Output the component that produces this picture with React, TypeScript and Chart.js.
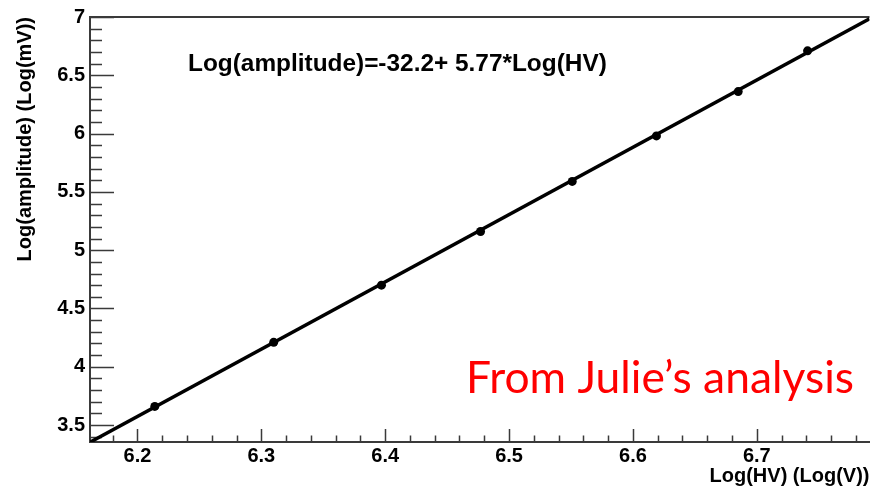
import { useEffect, useRef } from "react";
import { Chart, registerables } from "chart.js";

Chart.register(...registerables);

// Measured points: log of the high voltage vs log of the pulse amplitude
const hvLog = [6.214, 6.31, 6.397, 6.477, 6.551, 6.619, 6.685, 6.741];
const amplitudeLog = [3.66, 4.21, 4.7, 5.16, 5.59, 5.98, 6.36, 6.71];

// Linear fit stated in the label
const fitIntercept = -32.2;
const fitSlope = 5.77;

// Axes
const xRange = [6.1617, 6.791];
const yRange = [3.355, 7.0];
const xTickValues = [6.2, 6.3, 6.4, 6.5, 6.6, 6.7];
const yTickValues = [3.5, 4, 4.5, 5, 5.5, 6, 6.5, 7];
const xMinorStep = 0.02;
const yMinorStep = 0.1;

const xTitle = "Log(HV) (Log(V))";
const yTitle = "Log(amplitude) (Log(mV))";
const fitLabel = "Log(amplitude)=-32.2+ 5.77*Log(HV)";
const noteLabel = "From Julie\u2019s analysis";

const AXIS_FONT = "'Liberation Sans', Arial, Helvetica, sans-serif";
const FRAME_COLOR = "#3a3a3a";

// ROOT-style frame: inward major/minor ticks plus a top border line
const frameTicks = {
  id: "frameTicks",
  beforeDatasetsDraw(chart: any) {
    const { ctx, chartArea } = chart;
    const xs = chart.scales.x;
    const ys = chart.scales.y;
    const { left, right, top, bottom } = chartArea;
    ctx.save();
    ctx.strokeStyle = FRAME_COLOR;
    ctx.lineWidth = 1.5;
    ctx.beginPath();
    // y ticks
    const yStart = Math.ceil(ys.min / yMinorStep - 1e-6);
    const yEnd = Math.floor(ys.max / yMinorStep + 1e-6);
    for (let i = yStart; i <= yEnd; i++) {
      const v = i * yMinorStep;
      const isMajor = yTickValues.some((t) => Math.abs(t - v) < 1e-6);
      const py = Math.round(ys.getPixelForValue(v)) + 0.5;
      ctx.moveTo(left, py);
      ctx.lineTo(left + (isMajor ? 24 : 12), py);
    }
    // x ticks
    const xStart = Math.ceil(xs.min / xMinorStep - 1e-6);
    const xEnd = Math.floor(xs.max / xMinorStep + 1e-6);
    for (let i = xStart; i <= xEnd; i++) {
      const v = i * xMinorStep;
      const isMajor = xTickValues.some((t) => Math.abs(t - v) < 1e-6);
      const px = Math.round(xs.getPixelForValue(v)) + 0.5;
      ctx.moveTo(px, bottom);
      ctx.lineTo(px, bottom - (isMajor ? 13 : 6.5));
    }
    ctx.stroke();
    // top border
    ctx.lineWidth = 2;
    ctx.beginPath();
    ctx.moveTo(left, top);
    ctx.lineTo(right, top);
    ctx.stroke();
    ctx.restore();
  },
  afterDraw(chart: any) {
    const { ctx, chartArea } = chart;
    ctx.save();
    ctx.fillStyle = "#000";
    ctx.textAlign = "left";
    ctx.textBaseline = "alphabetic";
    ctx.font = `bold 24.4px ${AXIS_FONT}`;
    ctx.fillText(fitLabel, chartArea.left + 98, chartArea.top + 54);
    ctx.fillStyle = "#ff0000";
    ctx.font = "44.5px Lato, 'Open Sans', sans-serif";
    ctx.fillText(noteLabel, chartArea.left + 376, chartArea.top + 376, 388);
    ctx.restore();
  },
};

export default function App() {
  const canvasRef = useRef<HTMLCanvasElement | null>(null);

  useEffect(() => {
    const canvas = canvasRef.current;
    if (!canvas) return;

    const fitLine = xRange.map((x) => ({ x, y: fitIntercept + fitSlope * x }));
    const points = hvLog.map((x, i) => ({ x, y: amplitudeLog[i] }));

    const chart = new Chart(canvas, {
      type: "scatter",
      data: {
        datasets: [
          {
            label: "data",
            data: points,
            order: 0,
            pointRadius: 4.5,
            pointBackgroundColor: "#000",
            pointBorderWidth: 0,
            showLine: false,
          },
          {
            label: "fit",
            data: fitLine,
            order: 1,
            showLine: true,
            borderColor: "#000",
            borderWidth: 3.5,
            pointRadius: 0,
          },
        ],
      },
      options: {
        responsive: false,
        animation: false,
        events: [],
        layout: { padding: { top: 16, left: 0, right: 0, bottom: 0 } },
        plugins: {
          legend: { display: false },
          tooltip: { enabled: false },
        },
        scales: {
          x: {
            type: "linear",
            min: xRange[0],
            max: xRange[1],
            afterBuildTicks: (scale: any) => {
              scale.ticks = xTickValues.map((value) => ({ value }));
            },
            afterFit: (scale: any) => {
              scale.height = 45;
            },
            grid: { display: false, drawTicks: false },
            border: { display: true, color: FRAME_COLOR, width: 2 },
            ticks: {
              color: "#000",
              padding: 2,
              maxRotation: 0,
              font: { family: AXIS_FONT, size: 20, weight: "bold", lineHeight: 1.2 },
              callback: (v: any) => String(Number(v)),
            },
            title: {
              display: true,
              text: xTitle,
              align: "end",
              color: "#000",
              font: { family: AXIS_FONT, size: 20, weight: "bold", lineHeight: 1.1 },
              padding: { top: 0, bottom: 0 },
            },
          },
          y: {
            type: "linear",
            min: yRange[0],
            max: yRange[1],
            afterBuildTicks: (scale: any) => {
              scale.ticks = yTickValues.map((value) => ({ value }));
            },
            afterFit: (scale: any) => {
              scale.width = 90;
            },
            grid: { display: false, drawTicks: false },
            border: { display: true, color: FRAME_COLOR, width: 2 },
            ticks: {
              color: "#000",
              padding: 5,
              font: { family: AXIS_FONT, size: 20, weight: "bold" },
              callback: (v: any) => String(Number(v)),
            },
            title: {
              display: true,
              text: yTitle,
              align: "end",
              color: "#000",
              font: { family: AXIS_FONT, size: 20, weight: "bold", lineHeight: 1.2 },
              padding: { top: 13, bottom: 0 },
            },
          },
        },
      },
      plugins: [frameTicks],
    });

    return () => chart.destroy();
  }, []);

  return (
    <div style={{ position: "fixed", left: 0, top: 0, width: 874, height: 487, background: "#fff" }}>
      <canvas ref={canvasRef} width={874} height={487} style={{ display: "block" }} />
    </div>
  );
}
